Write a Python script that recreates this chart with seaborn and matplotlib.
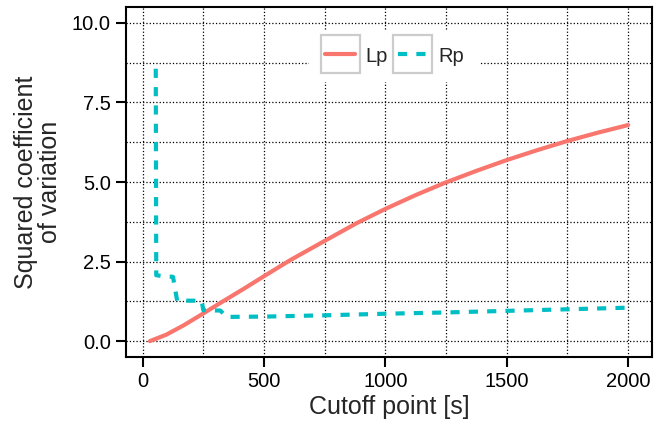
import matplotlib
matplotlib.use("Agg")
import matplotlib.pyplot as plt
from matplotlib.patches import Rectangle
from matplotlib.ticker import MultipleLocator, FormatStrFormatter
import pandas as pd
import seaborn as sns

# Squared coefficient of variation against cutoff point
lp_cutoff = [30, 97, 170, 250, 331, 420, 500, 607, 750, 880, 1000, 1125, 1250, 1375, 1500, 1625, 1750, 1875, 2000]
lp_scv = [0.0, 0.20, 0.50, 0.87, 1.25, 1.66, 2.04, 2.54, 3.15, 3.70, 4.155, 4.59, 4.99, 5.35, 5.69, 6.00, 6.29, 6.55, 6.79]

rp_cutoff = [54, 56, 85, 125, 142, 243, 250, 320, 345, 500, 750, 1000, 1250, 1500, 1750, 2000]
rp_scv = [8.56, 2.07, 2.04, 2.02, 1.27, 1.27, 0.97, 0.96, 0.76, 0.77, 0.81, 0.86, 0.90, 0.95, 1.00, 1.05]

series_names = ["Lp", "Rp"]
series_colors = {"Lp": "#F8766D", "Rp": "#00BFC4"}
rp_dashes = (2.2, 2.2)

df = pd.concat([
    pd.DataFrame({"cutoff": lp_cutoff, "scv": lp_scv, "series": "Lp"}),
    pd.DataFrame({"cutoff": rp_cutoff, "scv": rp_scv, "series": "Rp"}),
], ignore_index=True)

sns.set_style("ticks")
plt.rcParams["font.family"] = ["Liberation Sans", "DejaVu Sans"]

fig = plt.figure(figsize=(6.54, 4.25), dpi=100)
ax = fig.add_axes([0.1927, 0.16, 0.8043, 0.8235])

sns.lineplot(data=df, x="cutoff", y="scv", hue="series", style="series",
             hue_order=series_names, style_order=series_names,
             palette=series_colors, dashes={"Lp": "", "Rp": rp_dashes},
             estimator=None, sort=False, linewidth=3, ax=ax, legend=False)

ax.set_xlim(-68.5, 2098.5)
ax.set_ylim(-0.5, 10.5)
ax.xaxis.set_major_locator(MultipleLocator(500))
ax.xaxis.set_minor_locator(MultipleLocator(250))
ax.yaxis.set_major_locator(MultipleLocator(2.5))
ax.yaxis.set_minor_locator(MultipleLocator(1.25))
ax.yaxis.set_major_formatter(FormatStrFormatter("%.1f"))

ax.grid(True, which="both", linestyle=":", color="black", linewidth=0.9)
ax.set_axisbelow(True)
ax.tick_params(which="major", direction="out", length=7, width=1.5,
               labelsize=14.5, colors="black", pad=4)
ax.tick_params(which="minor", length=0)
for s in ax.spines.values():
    s.set_linewidth(1.5)
    s.set_color("black")

ax.set_xlabel("Cutoff point [s]", fontsize=18, labelpad=3)
ax.set_ylabel("Squared coefficient\nof variation", fontsize=18, labelpad=7,
              linespacing=1.0)

handles = [
    plt.Line2D([], [], color=series_colors["Lp"], linewidth=3),
    plt.Line2D([], [], color=series_colors["Rp"], linewidth=3, dashes=rp_dashes),
]
leg = ax.legend(handles, series_names, loc="center", bbox_to_anchor=(0.51, 0.86),
                ncol=2, fontsize=14.5, frameon=True, fancybox=False,
                handlelength=1.5, handletextpad=0.5, columnspacing=0.5,
                borderpad=0.8, borderaxespad=0)
leg.get_frame().set_facecolor("white")
leg.get_frame().set_edgecolor("none")
leg.get_frame().set_alpha(1)

# grey key boxes around each legend handle
fig.canvas.draw()
renderer = fig.canvas.get_renderer()
inv = fig.transFigure.inverted()
for line in leg.get_lines():
    bb = line.get_window_extent(renderer)
    cx, cy = (bb.x0 + bb.x1) / 2, (bb.y0 + bb.y1) / 2
    w, h = 39, 38
    x0, y0 = inv.transform((cx - w / 2, cy - h / 2))
    x1, y1 = inv.transform((cx + w / 2, cy + h / 2))
    fig.add_artist(Rectangle((x0, y0), x1 - x0, y1 - y0, transform=fig.transFigure,
                             facecolor="none", edgecolor="#cccccc", linewidth=1.6,
                             zorder=10))

fig.savefig("out.png", dpi=100)
